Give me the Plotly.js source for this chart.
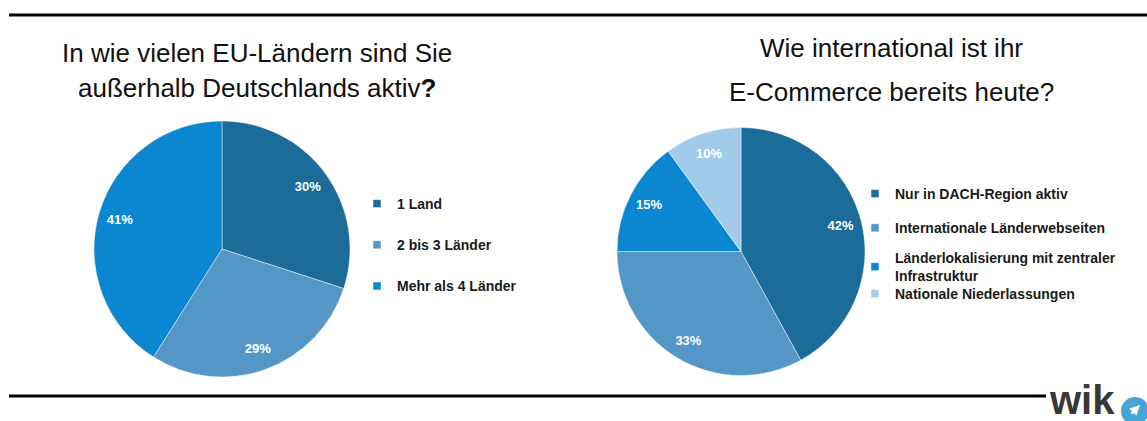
<!DOCTYPE html>
<html><head><meta charset="utf-8">
<script src="https://cdn.plot.ly/plotly-3.0.1.min.js"></script>
<style>html,body{margin:0;padding:0;background:#fff}</style>
</head><body><div id="chart" style="width:1147px;height:421px"></div>
<script>
// ---- data ----
const labels1 = ['1 Land', '2 bis 3 Länder', 'Mehr als 4 Länder'];
const values1 = [30, 29, 41];
const labels2 = ['Nur in DACH-Region aktiv', 'Internationale Länderwebseiten', 'Länderlokalisierung mit zentraler<br>Infrastruktur', 'Nationale Niederlassungen'];
const values2 = [42, 33, 15, 10];
const title1Lines = ['In wie vielen EU-Ländern sind Sie', 'außerhalb Deutschlands aktiv<b>?</b>'];
const title2Lines = ['Wie international ist ihr', 'E-Commerce bereits heute?'];
const logoText = 'wik';

// ---- styles ----
const W = 1147, H = 421;
const colors1 = ['#1B6C98', '#5496C5', '#0B87D1'];
const colors2 = ['#1B6C98', '#5496C5', '#0B87D1', '#A0CBEA'];
const FONT = 'Liberation Sans, Arial, sans-serif';
const px = v => v / W;
const py = v => 1 - v / H;

function pieTraces(labels, values, colors, dom) {
  const domain = {x: [px(dom[0]), px(dom[1])], y: [py(dom[3]), py(dom[2])]};
  return [
    {type: 'pie', labels: labels, values: values, domain: domain, sort: false, direction: 'clockwise', rotation: 0,
     marker: {colors: colors, line: {color: 'rgba(255,255,255,0.45)', width: 1}},
     textinfo: 'none', showlegend: false, hoverinfo: 'label+percent'},
    {type: 'pie', labels: labels, values: values, domain: domain, sort: false, direction: 'clockwise', rotation: 0,
     hole: 0.66, marker: {colors: labels.map(() => 'rgba(0,0,0,0)'), line: {width: 0}},
     texttemplate: '%{percent:.0%}', textposition: 'inside', insidetextorientation: 'horizontal',
     textfont: {family: FONT, size: 13, color: '#ffffff', weight: 'bold'},
     showlegend: false, hoverinfo: 'skip'}
  ];
}

function legendTraces(labels, colors, legendIds, groups) {
  return labels.map((l, i) => ({
    type: 'scatter', mode: 'markers', x: [null], y: [null], name: l,
    marker: {symbol: 'square', size: 8, color: colors[i], line: {color: 'rgba(255,255,255,0.5)', width: 1}},
    legend: legendIds[i], legendgroup: legendIds[i] + '_' + groups[i], showlegend: true, hoverinfo: 'skip'
  }));
}

const data = [
  ...pieTraces(labels1, values1, colors1, [94, 350, 121, 377]),
  ...pieTraces(labels2, values2, colors2, [617, 865, 126, 377]),
  ...legendTraces(labels1, colors1, ['legend', 'legend', 'legend'], [0, 1, 2]),
  ...legendTraces(labels2, colors2, ['legend2', 'legend2', 'legend3', 'legend4'], [0, 1, 2, 3])
];

const legendFont = {family: FONT, size: 14, color: '#1a1a1a', weight: 'bold'};
const annotations = [];
title1Lines.forEach((t, i) => annotations.push({
  text: t, xref: 'paper', yref: 'paper', x: px(257), y: py([53, 88][i]), xanchor: 'center', yanchor: 'middle',
  showarrow: false, font: {family: FONT, size: 26, color: '#111'}
}));
title2Lines.forEach((t, i) => annotations.push({
  text: t, xref: 'paper', yref: 'paper', x: px(891), y: py([48, 92][i]), xanchor: 'center', yanchor: 'middle',
  showarrow: false, font: {family: FONT, size: 26, color: '#111'}
}));
annotations.push({
  text: logoText, xref: 'paper', yref: 'paper', x: px(1047), y: py(376), xanchor: 'left', yanchor: 'top',
  showarrow: false, font: {family: FONT, size: 40, color: '#383838', weight: 'bold'}
});
annotations.push({
  text: '', xref: 'paper', yref: 'paper', x: px(1140), y: py(405), ax: -10, ay: 10,
  showarrow: true, arrowhead: 2, arrowsize: 0.8, arrowwidth: 2.5, arrowcolor: '#ffffff'
});

const legBase = {xanchor: 'left', yanchor: 'top', font: legendFont, bgcolor: 'rgba(0,0,0,0)', borderwidth: 0};
const layout = {
  width: W, height: H, margin: {l: 0, r: 0, t: 0, b: 0},
  paper_bgcolor: '#ffffff', plot_bgcolor: '#ffffff',
  xaxis: {visible: false, domain: [0, 0.01]}, yaxis: {visible: false, domain: [0, 0.01]},
  legend: Object.assign({x: px(357), y: py(188), tracegroupgap: 20}, legBase),
  legend2: Object.assign({x: px(855), y: py(178), tracegroupgap: 13}, legBase),
  legend3: Object.assign({x: px(855), y: py(242)}, legBase),
  legend4: Object.assign({x: px(855), y: py(278)}, legBase),
  shapes: [
    {type: 'line', xref: 'paper', yref: 'paper', x0: px(9), x1: px(1147), y0: py(15), y1: py(15), line: {color: '#000', width: 3}},
    {type: 'line', xref: 'paper', yref: 'paper', x0: px(9), x1: px(1046), y0: py(396), y1: py(396), line: {color: '#000', width: 3}},
    {type: 'circle', xref: 'paper', yref: 'paper', x0: px(1121), x1: px(1149), y0: py(425), y1: py(397),
     fillcolor: '#46A4D6', line: {width: 0}}
  ],
  annotations: annotations,
  showlegend: true
};

Plotly.newPlot('chart', data, layout, {displayModeBar: false, staticPlot: true});
</script>
</body></html>
